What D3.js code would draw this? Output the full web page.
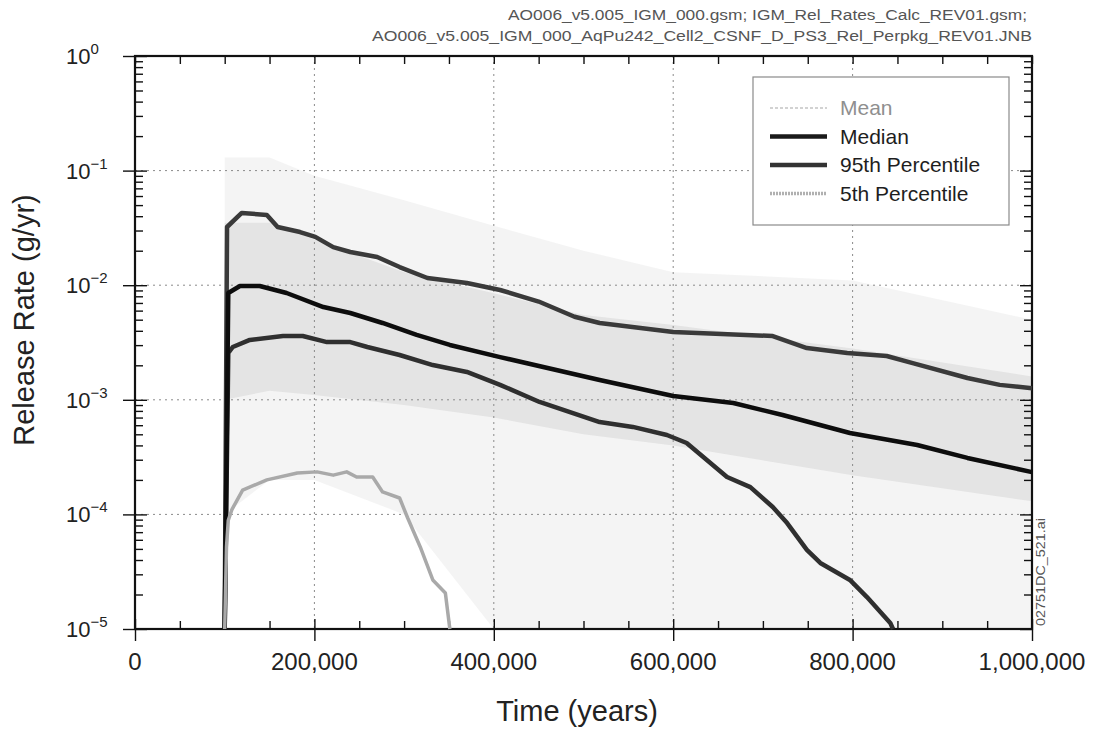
<!DOCTYPE html>
<html>
<head>
<meta charset="utf-8">
<script src="https://cdn.jsdelivr.net/npm/d3@7"></script>
<style>
  body { margin: 0; background: #fff; }
  svg { display: block; font-family: "Liberation Sans", Arial, sans-serif; }
</style>
</head>
<body>
<div class="container"></div>
<script>
// values (years, g/yr)
var years95 = [100000,102600,119000,147000,159000,184000,201000,221000,240000,270000,295000,326000,370000,407000,450000,490000,518000,600000,711000,749000,794000,838000,867000,928000,964000,1000000];
var p95 = [1e-5,0.0322,0.0427,0.041,0.0322,0.0291,0.0264,0.0215,0.0195,0.0176,0.0144,0.01156,0.01045,0.00908,0.0072,0.0053,0.00468,0.00391,0.0036,0.00283,0.00256,0.00241,0.00209,0.00155,0.00135,0.00126];

var yearsMedian = [100000,104000,117000,139000,169000,210000,240000,276000,314000,351000,407000,518000,600000,667000,722000,797000,872000,928000,1000000];
var median = [1e-5,0.00855,0.00984,0.00984,0.00855,0.00645,0.00572,0.00468,0.00368,0.00301,0.00236,0.00149,0.00108,0.000938,0.000737,0.000513,0.000403,0.000311,0.000234];

var yearsMean = [100000,104000,109000,128000,165000,187000,214000,240000,259000,295000,332000,370000,407000,451000,518000,555000,593000,615000,660000,686000,711000,727000,749000,764000,797000,816000,842000,845000];
var mean = [1e-5,0.00256,0.00289,0.00333,0.0036,0.0036,0.00319,0.00319,0.00289,0.00246,0.00201,0.00175,0.00135,0.000957,0.00064,0.00058,0.000493,0.00042,0.000212,0.000173,0.000116,0.000084,0.000049,0.0000377,0.0000268,0.000019,0.0000113,0.00001];

var years5 = [100000,102000,104000,108000,114000,120000,147000,181000,203000,221000,236000,247000,265000,276000,295000,304000,318000,332000,346000,351000];
var p5 = [1e-5,5.2e-5,8.9e-5,1.1e-4,1.34e-4,1.63e-4,2.0e-4,2.3e-4,2.35e-4,2.2e-4,2.35e-4,2.12e-4,2.12e-4,1.57e-4,1.39e-4,9.3e-5,5.2e-5,2.68e-5,2.06e-5,1.0e-5];

// envelope of the grey cloud of realizations
var cloudYears = [100000,150000,200000,300000,400000,500000,600000,800000,1000000];
var cloudHigh = [0.13,0.13,0.09,0.055,0.033,0.02,0.013,0.011,0.005];
var cloudLow = [1e-4,2e-4,2e-4,1e-4,1e-5,1e-5,1e-5,1e-5,1e-5];
var coreHigh = [0.035,0.035,0.025,0.013,0.0085,0.0055,0.0045,0.0028,0.0016];
var coreLow = [0.001,0.0012,0.0011,0.0009,0.0007,0.0005,0.0004,0.00022,0.00013];

var xTicks = [0,200000,400000,600000,800000,1000000];
var decades = [1e-5,1e-4,1e-3,1e-2,1e-1,1];
var exponents = ['\u22125','\u22124','\u22123','\u22122','\u22121','0'];

var legendNames = ['Mean','Median','95th Percentile','5th Percentile'];
var headerLines = ['AO006_v5.005_IGM_000.gsm; IGM_Rel_Rates_Calc_REV01.gsm;',
                   'AO006_v5.005_IGM_000_AqPu242_Cell2_CSNF_D_PS3_Rel_Perpkg_REV01.JNB'];

const WIDTH = 1094;
const HEIGHT = 735;
const LEFT = 135, RIGHT = 1032, TOP = 56, BOTTOM = 629;

var x = d3.scaleLinear().domain([0, 1000000]).range([LEFT, RIGHT]);
var y = d3.scaleLog().domain([1e-5, 1]).range([BOTTOM, TOP]);

var svg = d3.select('.container').append('svg')
	.attr('width', WIDTH)
	.attr('height', HEIGHT);

// grey cloud
var area = function(lo, hi) {
	return d3.area()
		.x(function(d, i) { return x(cloudYears[i]); })
		.y0(function(d, i) { return y(lo[i]); })
		.y1(function(d, i) { return y(hi[i]); });
};
svg.append('path').datum(cloudYears)
	.attr('d', area(cloudLow, cloudHigh))
	.attr('fill', '#ececec').attr('opacity', 0.6);
svg.append('path').datum(cloudYears)
	.attr('d', area(coreLow, coreHigh))
	.attr('fill', '#d8d8d8').attr('opacity', 0.6);

// dotted grid
var grid = svg.append('g').attr('stroke', '#8a8a8a').attr('stroke-dasharray', '2,4').attr('stroke-width', 1);
grid.selectAll('.gx').data(xTicks.slice(1, -1)).enter().append('line')
	.attr('x1', function(d) { return x(d); }).attr('x2', function(d) { return x(d); })
	.attr('y1', TOP).attr('y2', BOTTOM);
grid.selectAll('.gy').data(decades.slice(1, -1)).enter().append('line')
	.attr('y1', function(d) { return y(d); }).attr('y2', function(d) { return y(d); })
	.attr('x1', LEFT).attr('x2', RIGHT);

// minor tick values
var minors = [];
decades.slice(0, -1).forEach(function(d) {
	for (var k = 2; k < 10; k++) minors.push(d * k);
});
var xMinor = d3.range(50000, 1000000, 50000).filter(function(v) { return v % 200000 != 0; });

var clean = function(g) {
	g.select('.domain').remove();
	g.selectAll('.tick line').attr('stroke', '#111').attr('stroke-width', 1.4);
};

// left axis
svg.append('g').attr('transform', 'translate(' + LEFT + ',0)')
	.call(d3.axisLeft(y).tickValues(decades).tickSize(12).tickFormat('')).call(clean);
svg.append('g').attr('transform', 'translate(' + LEFT + ',0)')
	.call(d3.axisRight(y).tickValues(decades).tickSize(12).tickFormat('')).call(clean);
svg.append('g').attr('transform', 'translate(' + LEFT + ',0)')
	.call(d3.axisRight(y).tickValues(minors).tickSize(8).tickFormat('')).call(clean);
// right axis
svg.append('g').attr('transform', 'translate(' + RIGHT + ',0)')
	.call(d3.axisLeft(y).tickValues(decades).tickSize(12).tickFormat('')).call(clean);
svg.append('g').attr('transform', 'translate(' + RIGHT + ',0)')
	.call(d3.axisLeft(y).tickValues(minors).tickSize(8).tickFormat('')).call(clean);
// bottom axis
svg.append('g').attr('transform', 'translate(0,' + BOTTOM + ')')
	.call(d3.axisBottom(x).tickValues(xTicks).tickSize(12).tickFormat('')).call(clean);
svg.append('g').attr('transform', 'translate(0,' + BOTTOM + ')')
	.call(d3.axisTop(x).tickValues(xTicks).tickSize(10).tickFormat('')).call(clean);
svg.append('g').attr('transform', 'translate(0,' + BOTTOM + ')')
	.call(d3.axisTop(x).tickValues(xMinor).tickSize(8).tickFormat('')).call(clean);
// top axis
svg.append('g').attr('transform', 'translate(0,' + TOP + ')')
	.call(d3.axisBottom(x).tickValues(xMinor.concat(xTicks)).tickSize(8).tickFormat('')).call(clean);

// frame
svg.append('rect')
	.attr('x', LEFT).attr('y', TOP)
	.attr('width', RIGHT - LEFT).attr('height', BOTTOM - TOP)
	.attr('fill', 'none').attr('stroke', '#111').attr('stroke-width', 2.2);

// y tick labels 10^n
var yl = svg.append('g').selectAll('text').data(decades).enter().append('text')
	.attr('x', 66)
	.attr('y', function(d) { return y(d) + 8; })
	.attr('font-size', 22).attr('fill', '#222');
yl.append('tspan').text('10');
yl.append('tspan').attr('dy', -10).attr('font-size', 15)
	.text(function(d, i) { return exponents[i]; });

// x tick labels
svg.append('g').selectAll('text').data(xTicks).enter().append('text')
	.attr('x', function(d) { return x(d); })
	.attr('y', 670)
	.attr('text-anchor', 'middle')
	.attr('font-size', 24).attr('fill', '#222')
	.text(function(d) { return d3.format(',')(d); });

// axis titles
svg.append('text').attr('x', 577).attr('y', 721)
	.attr('text-anchor', 'middle').attr('font-size', 29).attr('fill', '#222')
	.text('Time (years)');
svg.append('text').attr('transform', 'translate(34,320) rotate(-90)')
	.attr('text-anchor', 'middle').attr('font-size', 29).attr('fill', '#222')
	.text('Release Rate (g/yr)');

// series
var line = d3.line()
	.x(function(d) { return x(d[0]); })
	.y(function(d) { return y(d[1]); });
var series = [
	{ xs: yearsMean, ys: mean, color: '#2f2f2f', w: 4.5 },
	{ xs: years95, ys: p95, color: '#3a3a3a', w: 4.5 },
	{ xs: yearsMedian, ys: median, color: '#0d0d0d', w: 4.5 },
	{ xs: years5, ys: p5, color: '#a9a9a9', w: 3.5 }
];
svg.append('g').selectAll('path').data(series).enter().append('path')
	.attr('d', function(s) { return line(d3.zip(s.xs, s.ys)); })
	.attr('fill', 'none')
	.attr('stroke', function(s) { return s.color; })
	.attr('stroke-width', function(s) { return s.w; })
	.attr('stroke-linejoin', 'round');

// legend
var lg = svg.append('g').attr('transform', 'translate(753,77)');
lg.append('rect').attr('width', 256).attr('height', 148)
	.attr('fill', '#fff').attr('stroke', '#8a8a8a').attr('stroke-width', 1.2);
var swatch = [
	{ color: '#d2d2d2', w: 2, dash: '3,2', text: '#8f8f8f' },
	{ color: '#1a1a1a', w: 4.5, dash: null, text: '#1e1e1e' },
	{ color: '#333', w: 4.5, dash: null, text: '#1e1e1e' },
	{ color: '#b0b0b0', w: 3.5, dash: '2,1', text: '#1e1e1e' }
];
var rows = lg.selectAll('.row').data(legendNames).enter().append('g')
	.attr('transform', function(d, i) { return 'translate(0,' + (38 + i * 28.5) + ')'; });
rows.append('line').attr('x1', 17).attr('x2', 74).attr('y1', -7).attr('y2', -7)
	.attr('stroke', function(d, i) { return swatch[i].color; })
	.attr('stroke-width', function(d, i) { return swatch[i].w; })
	.attr('stroke-dasharray', function(d, i) { return swatch[i].dash; });
rows.append('text').attr('x', 87).attr('font-size', 21)
	.attr('fill', function(d, i) { return swatch[i].text; })
	.text(function(d) { return d; });

// header
svg.append('g').selectAll('text').data(headerLines).enter().append('text')
	.attr('x', function(d, i) { return i == 0 ? 1027 : 1032; })
	.attr('y', function(d, i) { return 20 + i * 21; })
	.attr('text-anchor', 'end')
	.attr('font-size', 14).attr('fill', '#555')
	.attr('textLength', function(d, i) { return i == 0 ? 519 : 660; })
	.attr('lengthAdjust', 'spacingAndGlyphs')
	.text(function(d) { return d; });

// figure id on the right edge
svg.append('text')
	.attr('transform', 'translate(1045,626) rotate(-90)')
	.attr('font-size', 13).attr('fill', '#555')
	.attr('textLength', 108).attr('lengthAdjust', 'spacingAndGlyphs')
	.text('02751DC_521.ai');
</script>
</body>
</html>
